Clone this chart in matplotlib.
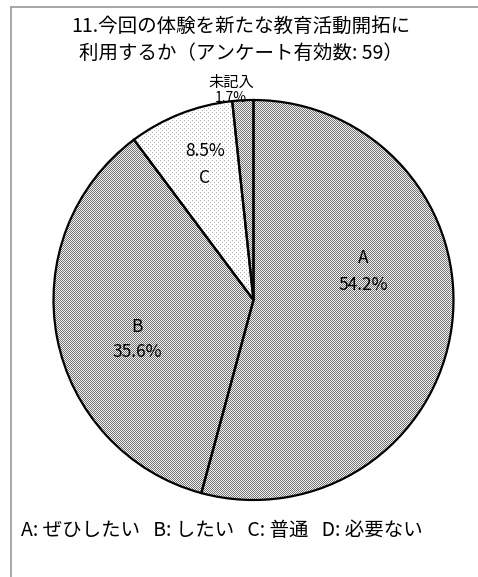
import numpy as np
import matplotlib as mpl
mpl.use("Agg")
import matplotlib.pyplot as plt

plt.rcParams["font.family"] = ["Noto Sans CJK JP", "DejaVu Sans"]

# 回答の集計 (有効数 59)
categories = ["A", "B", "C", "D", "未記入"]
shares = [54.2, 35.6, 8.5, 0.0, 1.7]
legend_text = "A: ぜひしたい   B: したい   C: 普通   D: 必要ない"
title = "11.今回の体験を新たな教育活動開拓に\n利用するか（アンケート有効数: 59）"

W, H = 478, 577
fig = plt.figure(figsize=(W / 100, H / 100), dpi=100)
ax = fig.add_axes([0, 0, 1, 1])
ax.set_xlim(0, W)
ax.set_ylim(0, H)
ax.axis("off")

# 画面座標(上から)で指定
def py(y):
    return H - y

cx, cy, r = 253.5, 300, 200

# 網掛けパターン
yy, xx = np.mgrid[0:H, 0:W]
checker = np.where((xx + yy) % 2 == 0, 0.45, 0.95)
sparse = np.where(((yy % 4 == 0) & (xx % 4 == 0)) | ((yy % 4 == 2) & (xx % 4 == 2)), 0.7, 1.0)
patterns = {"A": checker, "B": checker, "C": sparse, "未記入": checker}

cats = [c for c, v in zip(categories, shares) if v > 0]
vals = [v for v in shares if v > 0]

wedges, _ = ax.pie(vals, center=(cx, py(cy)), radius=r, startangle=90,
                   counterclock=False, colors=["none"] * len(vals),
                   wedgeprops=dict(edgecolor="black", linewidth=1.6))
for w, c in zip(wedges, cats):
    img = ax.imshow(patterns[c], cmap="gray", vmin=0, vmax=1,
                    extent=(0, W, 0, H), origin="upper",
                    interpolation="nearest", zorder=0)
    img.set_clip_path(w)
ax.set_xlim(0, W)
ax.set_ylim(0, H)

# ラベル位置 (x, 上段y, 下段y)
label_pos = {"A": (363, 258, 285), "B": (137, 327, 352),
             "C": (205, 151, 178), "未記入": (231, 82, 98)}
for c, v in zip(cats, vals):
    x, y1, y2 = label_pos[c]
    pct = f"{v:.1f}%"
    if c == "C":
        top, bottom = pct, c
    else:
        top, bottom = c, pct
    fs = 11 if c == "未記入" else 12.5
    ax.text(x, py(y1), top, ha="center", va="center", fontsize=fs)
    ax.text(x, py(y2), bottom, ha="center", va="center", fontsize=fs - 1 if c == "未記入" else fs)

ax.text(241, py(40), title, ha="center", va="center", fontsize=14, linespacing=1.4)
ax.text(21, py(530), legend_text, ha="left", va="center", fontsize=14)

# 外枠
ax.plot([11.5, 11.5], [0, py(6.5)], color="#a0a0a0", lw=1.3)
ax.plot([11.5, W], [py(6.5), py(6.5)], color="#a0a0a0", lw=1.3)

fig.savefig("out.png", dpi=100)
